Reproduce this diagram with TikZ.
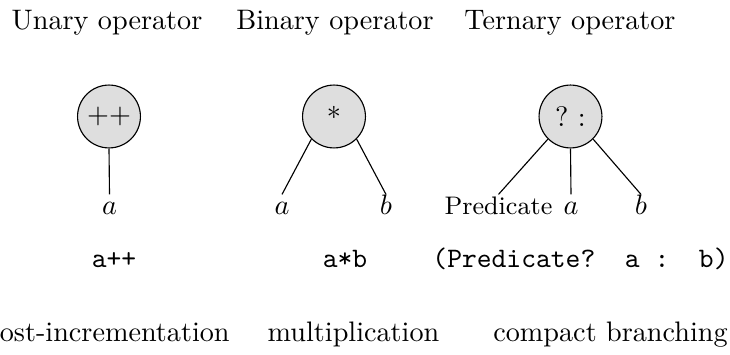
\documentclass[tikz,border=0pt]{standalone}
\definecolor{opfill}{HTML}{DEDEDE}
\begin{document}
\begin{tikzpicture}[x=0.3546pt,y=-0.3546pt,
  title/.style={anchor=base, inner sep=0pt},
  opnode/.style={circle, draw, fill=opfill, minimum size=22.3pt, inner sep=0pt},
  leaf/.style={anchor=base, text height=4.3pt, text depth=0pt, inner xsep=1pt, inner ysep=2.8pt},
  code/.style={anchor=base, inner sep=0pt, font=\ttfamily},
  caption/.style={anchor=base, inner sep=0pt}]
\useasboundingbox (0,0) rectangle (730,355);
% titles
\node[title] (tu) at (107,29.3) {Unary operator};
\node[title] (tb) at (335,29.3) {Binary operator};
\node[title] (tt) at (570,29.3) {Ternary operator};
% operators
\node[opnode] (u) at (109,116.5) {++};
\node[opnode] (b) at (334,116.5) {*};
\node[opnode] (t) at (570.5,116.5) {?\ :};
% leaves
\node[leaf] (ua) at (109.5,215) {$a$};
\node[leaf] (ba) at (282,215) {$a$};
\node[leaf] (bb) at (386,215) {$b$};
\node[leaf, font=\small] (tp) at (498.5,215) {Predicate};
\node[leaf] (ta) at (571,215) {$a$};
\node[leaf] (tbb) at (641,215) {$b$};
% connectors
\draw (u.south) -- (ua.north);
\draw (b.south west) -- (ba.north);
\draw (b.south east) -- (bb.north);
\draw (t.south west) -- (tp.north);
\draw (t.south) -- (ta.north);
\draw (t.south east) -- (tbb.north);
% code
\node[code] (cu) at (114,268) {a++};
\node[code] (cb) at (345,268) {a*b};
\node[code] (ct) at (580.5,268) {(Predicate?\ \ a :\ \ b)};
% captions
\node[caption] (pu) at (106.5,342) {post-incrementation};
\node[caption] (pb) at (353.5,342) {multiplication};
\node[caption] (pt) at (610.5,342) {compact branching};
\end{tikzpicture}
\end{document}
